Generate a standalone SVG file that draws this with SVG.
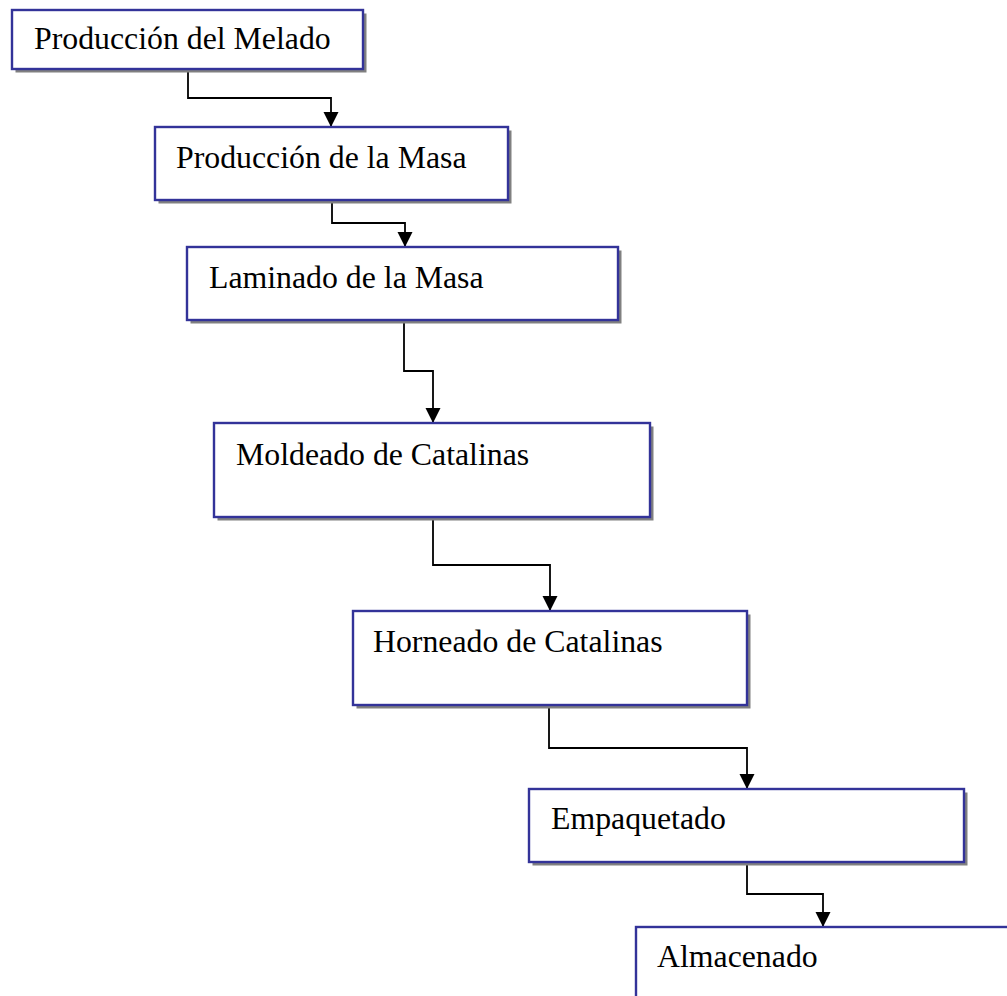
<svg xmlns="http://www.w3.org/2000/svg" width="1007" height="996" viewBox="0 0 1007 996">
  <defs>
    <style>
      .shadow { fill: #808080; }
      .box { fill: #ffffff; stroke: #333399; stroke-width: 2.4; }
      .label { font-family: "Liberation Serif", "Times New Roman", serif; font-size: 31.8px; fill: #000000; }
      .link { fill: none; stroke: #000000; stroke-width: 1.8; }
    </style>
    <marker id="arrow" markerUnits="userSpaceOnUse" markerWidth="18" markerHeight="18" refX="15" refY="7.5" orient="auto">
      <path d="M0,0 L15,7.5 L0,15 Z" fill="#000000"/>
    </marker>
  </defs>
  <rect width="1007" height="996" fill="#ffffff"/>

  <g id="connectors">
    <polyline class="link" points="188,69 188,98 331,98 331,127" marker-end="url(#arrow)"/>
    <polyline class="link" points="332,200 332,223 405,223 405,247" marker-end="url(#arrow)"/>
    <polyline class="link" points="404,320 404,371 433,371 433,423" marker-end="url(#arrow)"/>
    <polyline class="link" points="433,517 433,565 550,565 550,611" marker-end="url(#arrow)"/>
    <polyline class="link" points="549,705 549,748 747,748 747,789" marker-end="url(#arrow)"/>
    <polyline class="link" points="747,862 747,894 823,894 823,927" marker-end="url(#arrow)"/>
  </g>

  <g id="melado">
    <rect class="shadow" x="15.5" y="13.5" width="351" height="59"/>
    <rect class="box" x="12" y="10" width="351" height="59"/>
    <text class="label" x="34" y="49">Producción del Melado</text>
  </g>

  <g id="masa">
    <rect class="shadow" x="158.5" y="130.5" width="353" height="73"/>
    <rect class="box" x="155" y="127" width="353" height="73"/>
    <text class="label" x="176" y="168">Producción de la Masa</text>
  </g>

  <g id="laminado">
    <rect class="shadow" x="190.5" y="250.5" width="431" height="73"/>
    <rect class="box" x="187" y="247" width="431" height="73"/>
    <text class="label" x="209" y="288">Laminado de la Masa</text>
  </g>

  <g id="moldeado">
    <rect class="shadow" x="217.5" y="426.5" width="436" height="94"/>
    <rect class="box" x="214" y="423" width="436" height="94"/>
    <text class="label" x="236" y="465">Moldeado de Catalinas</text>
  </g>

  <g id="horneado">
    <rect class="shadow" x="356.5" y="614.5" width="394" height="94"/>
    <rect class="box" x="353" y="611" width="394" height="94"/>
    <text class="label" x="373" y="652">Horneado de Catalinas</text>
  </g>

  <g id="empaquetado">
    <rect class="shadow" x="532.5" y="792.5" width="435" height="73"/>
    <rect class="box" x="529" y="789" width="435" height="73"/>
    <text class="label" x="551" y="829">Empaquetado</text>
  </g>

  <g id="almacenado">
    <rect class="box" x="636" y="927" width="420" height="120"/>
    <text class="label" x="657" y="967">Almacenado</text>
  </g>
</svg>
